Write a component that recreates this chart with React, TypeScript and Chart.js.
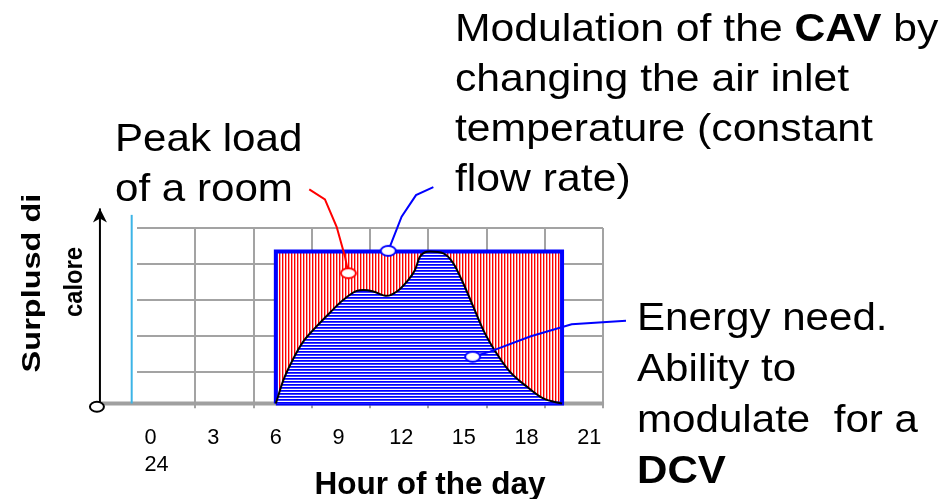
import React, { useEffect, useRef } from 'react';
import { Chart, registerables } from 'chart.js';

Chart.register(...registerables);

// ---- axis ticks ----
const tickHours = [0, 3, 6, 9, 12, 15, 18, 21];
const tickLabels: (string | string[])[] = [['0', '  24'], '3', '6', '9', '12', '15', '18', '21'];
const gridColumns = [1, 2, 3, 4, 5, 6, 7, 8];
const gridRows = [1, 2, 3, 4, 5];

// ---- energy need of the room (DCV) ----
const loadHours = [6, 6.36, 6.84, 7.31, 7.96, 8.6, 9.23, 9.87, 10.19, 10.67, 11.31, 11.79, 12.26, 12.66, 12.9, 13.38, 14.02, 14.5, 14.97, 15.45, 15.93, 16.57, 17.21, 18.01, 18.8, 19.7];
const loadValues = [0, 0.65, 1.25, 1.72, 2.15, 2.53, 2.88, 3.13, 3.15, 3.11, 2.99, 3.11, 3.38, 3.71, 4.08, 4.22, 4.17, 3.89, 3.34, 2.69, 2.04, 1.39, 0.88, 0.47, 0.14, 0];

// ---- CAV block (peak load held all day) ----
const cavHours = [6, 6, 19.7, 19.7];
const cavValues = [0, 4.22, 4.22, 0];

// ---- axis decorations ----
const baseHours = [-2.58, 21.71];
const baseValues = [0, 0];
const arrowHours = [-2.42, -2.42];
const arrowValues = [-0.09, 5.42];
const markerHours = [-0.9, -0.9];
const markerValues = [0, 5.24];

// ---- callouts ----
const peakCalloutHours = [7.6, 8.35, 8.91, 9.31, 9.47];
const peakCalloutValues = [5.95, 5.67, 4.91, 4.08, 3.62];
const cavCalloutHours = [13.54, 12.71, 12.02, 11.46, 11.38];
const cavCalloutValues = [6.01, 5.79, 5.19, 4.36, 4.24];
const dcvCalloutHours = [22.76, 20.16, 18.17, 16.25, 15.42];
const dcvCalloutValues = [2.3, 2.2, 1.86, 1.44, 1.3];

const pts = (xs: number[], ys: number[]) => xs.map((x, i) => ({ x, y: ys[i] }));

function ellipseImage(color: string) {
  const c = document.createElement('canvas');
  c.width = 19;
  c.height = 14;
  const g = c.getContext('2d')!;
  g.beginPath();
  g.ellipse(9.5, 7, 7.5, 5, 0, 0, Math.PI * 2);
  g.fillStyle = '#ffffff';
  g.fill();
  g.lineWidth = 2;
  g.strokeStyle = color;
  g.stroke();
  return c;
}

function stripes(ctx: CanvasRenderingContext2D, colors: string[], vertical: boolean) {
  const c = document.createElement('canvas');
  c.width = vertical ? colors.length : 1;
  c.height = vertical ? 1 : colors.length;
  const g = c.getContext('2d')!;
  colors.forEach((col, i) => {
    g.fillStyle = col;
    if (vertical) g.fillRect(i, 0, 1, 1);
    else g.fillRect(0, i, 1, 1);
  });
  return ctx.createPattern(c, 'repeat')!;
}

const FONT = '"Liberation Sans", Arial, sans-serif';

export default function App() {
  const ref = useRef<HTMLCanvasElement>(null);

  useEffect(() => {
    const canvas = ref.current!;
    const ctx = canvas.getContext('2d')!;
    const redFill = stripes(ctx, ['#ff0000', '#ffa0a0', '#ffffff'], true);
    const blueFill = stripes(ctx, ['#0000ff', '#4040ff', '#ffffff'], false);
    const redDot = ellipseImage('#ff0000');
    const blueDot = ellipseImage('#0000ff');

    const decor = {
      id: 'decor',
      afterDatasetsDraw(chart: any) {
        const xs = chart.scales.x;
        const ys = chart.scales.y;
        const c = chart.ctx as CanvasRenderingContext2D;
        c.save();
        // arrow head
        const ax = xs.getPixelForValue(arrowHours[1]);
        const ay = ys.getPixelForValue(arrowValues[1]);
        c.fillStyle = '#000';
        c.beginPath();
        c.moveTo(ax, ay);
        c.lineTo(ax + 7, ay + 14);
        c.lineTo(ax, ay + 10);
        c.lineTo(ax - 7, ay + 14);
        c.closePath();
        c.fill();
        // origin circle
        const ox = xs.getPixelForValue(arrowHours[0]) - 3;
        const oy = ys.getPixelForValue(arrowValues[0]);
        c.beginPath();
        c.ellipse(ox, oy, 7, 5, 0, 0, Math.PI * 2);
        c.fillStyle = '#fff';
        c.fill();
        c.lineWidth = 2;
        c.strokeStyle = '#000';
        c.stroke();
        c.restore();
      },
    };

    const callout = (xs: number[], ys: number[], color: string, img: HTMLCanvasElement, order: number) => ({
      data: pts(xs, ys),
      borderColor: color,
      borderWidth: 2,
      fill: false,
      tension: 0,
      clip: false as any,
      order,
      pointStyle: xs.map((_, i) => (i === xs.length - 1 ? img : 'circle')) as any,
      pointRadius: xs.map((_, i) => (i === xs.length - 1 ? 6 : 0)),
    });

    const chart = new Chart(ctx, {
      type: 'line',
      data: {
        datasets: [
          callout(peakCalloutHours, peakCalloutValues, '#ff0000', redDot, 1),
          callout(cavCalloutHours, cavCalloutValues, '#0000ff', blueDot, 2),
          callout(dcvCalloutHours, dcvCalloutValues, '#0000ff', blueDot, 3),
          {
            data: pts(arrowHours, arrowValues),
            borderColor: '#000000',
            borderWidth: 2,
            pointRadius: 0,
            fill: false,
            clip: false as any,
            order: 4,
          },
          {
            data: pts(markerHours, markerValues),
            borderColor: '#3cb4e6',
            borderWidth: 2,
            pointRadius: 0,
            fill: false,
            clip: false as any,
            order: 5,
          },
          {
            data: pts(loadHours, loadValues),
            borderColor: '#000000',
            borderWidth: 2,
            backgroundColor: blueFill as any,
            fill: 'origin',
            cubicInterpolationMode: 'monotone',
            pointRadius: 0,
            clip: false as any,
            order: 6,
          },
          {
            // CAV block outline (closed)
            data: pts([...cavHours, cavHours[0]], [...cavValues, cavValues[0]]),
            borderColor: '#0000ff',
            borderWidth: 4,
            fill: false,
            tension: 0,
            pointRadius: 0,
            borderJoinStyle: 'miter',
            clip: false as any,
            order: 7,
          },
          {
            // CAV block fill
            data: pts(cavHours, cavValues),
            borderWidth: 0,
            borderColor: 'rgba(0,0,0,0)',
            backgroundColor: redFill as any,
            fill: 'origin',
            tension: 0,
            pointRadius: 0,
            clip: false as any,
            order: 8,
          },
          {
            data: pts(baseHours, baseValues),
            borderColor: '#a0a0a0',
            borderWidth: 4,
            pointRadius: 0,
            fill: false,
            clip: false as any,
            order: 9,
          },
        ],
      },
      options: {
        animation: false,
        responsive: false,
        events: [],
        layout: { padding: { left: 137, right: 344, top: 228.3, bottom: 4.7 } },
        plugins: { legend: { display: false }, tooltip: { enabled: false } },
        scales: {
          x: {
            type: 'linear',
            position: 'bottom',
            min: -0.646,
            max: 21.66,
            grid: { display: false, drawTicks: false },
            border: { display: false },
            afterBuildTicks: (s: any) => {
              s.ticks = tickHours.map((v) => ({ value: v }));
            },
            ticks: {
              autoSkip: false,
              maxRotation: 0,
              padding: 16,
              color: '#000',
              font: { family: FONT, size: 21.7, lineHeight: '27px' as any },
              callback: (v: any) => {
                const i = tickHours.indexOf(Number(v));
                return i >= 0 ? tickLabels[i] : '';
              },
            },
          },
          xg: {
            type: 'linear',
            position: 'top',
            min: 0,
            max: 8,
            afterBuildTicks: (s: any) => {
              s.ticks = gridColumns.map((v) => ({ value: v }));
            },
            grid: { color: '#a3a3a3', lineWidth: 2, drawTicks: false },
            border: { display: false },
            ticks: { display: false },
          },
          y: {
            type: 'linear',
            display: false,
            min: -0.133,
            max: 4.867,
          },
          yg: {
            type: 'linear',
            position: 'left',
            min: 0,
            max: 5,
            afterBuildTicks: (s: any) => {
              s.ticks = gridRows.map((v) => ({ value: v }));
            },
            grid: { color: '#a3a3a3', lineWidth: 2, drawTicks: false },
            border: { display: false },
            ticks: { display: false },
          },
        },
      } as any,
      plugins: [decor],
    });
    return () => chart.destroy();
  }, []);

  const big: React.CSSProperties = {
    position: 'absolute',
    fontFamily: FONT,
    fontSize: 39,
    lineHeight: '50px',
    whiteSpace: 'pre',
    color: '#000',
    transform: 'scaleX(1.08)',
    transformOrigin: 'left top',
  };

  const rot = (scale: number): React.CSSProperties => ({
    position: 'absolute',
    fontFamily: FONT,
    fontWeight: 'bold',
    fontSize: 25,
    lineHeight: 1.15,
    whiteSpace: 'pre',
    color: '#000',
    transform: `translate(-50%, -50%) rotate(-90deg) scaleX(${scale})`,
  });

  return (
    <div style={{ position: 'fixed', left: 0, top: 0, width: 947, height: 499, background: '#fff', overflow: 'hidden' }}>
      <canvas ref={ref} width={947} height={499} style={{ position: 'absolute', left: 0, top: 0, width: 947, height: 499 }} />
      <div style={{ ...big, left: 455.2, top: 2.8, transform: 'scaleX(1.095)' }}>
        {'Modulation of the '}
        <b>CAV</b>
        {' by\nchanging the air inlet\ntemperature (constant\nflow rate)'}
      </div>
      <div style={{ ...big, left: 115.3, top: 112.8 }}>{'Peak load\nof a room'}</div>
      <div style={{ ...big, left: 637.4, top: 292.4, lineHeight: '50.7px' }}>
        {'Energy need.\nAbility to\nmodulate  for a\n'}
        <b>DCV</b>
      </div>
      <div
        style={{
          position: 'absolute',
          left: 314.5,
          top: 464.5,
          fontFamily: FONT,
          fontWeight: 'bold',
          fontSize: 31.5,
          lineHeight: '36px',
          whiteSpace: 'pre',
          color: '#000',
        }}
      >
        Hour of the day
      </div>
      <div style={{ ...rot(1.3), left: 31.2, top: 283 }}>Surplusd di</div>
      <div style={{ ...rot(0.95), left: 72.9, top: 282 }}>calore</div>
    </div>
  );
}
